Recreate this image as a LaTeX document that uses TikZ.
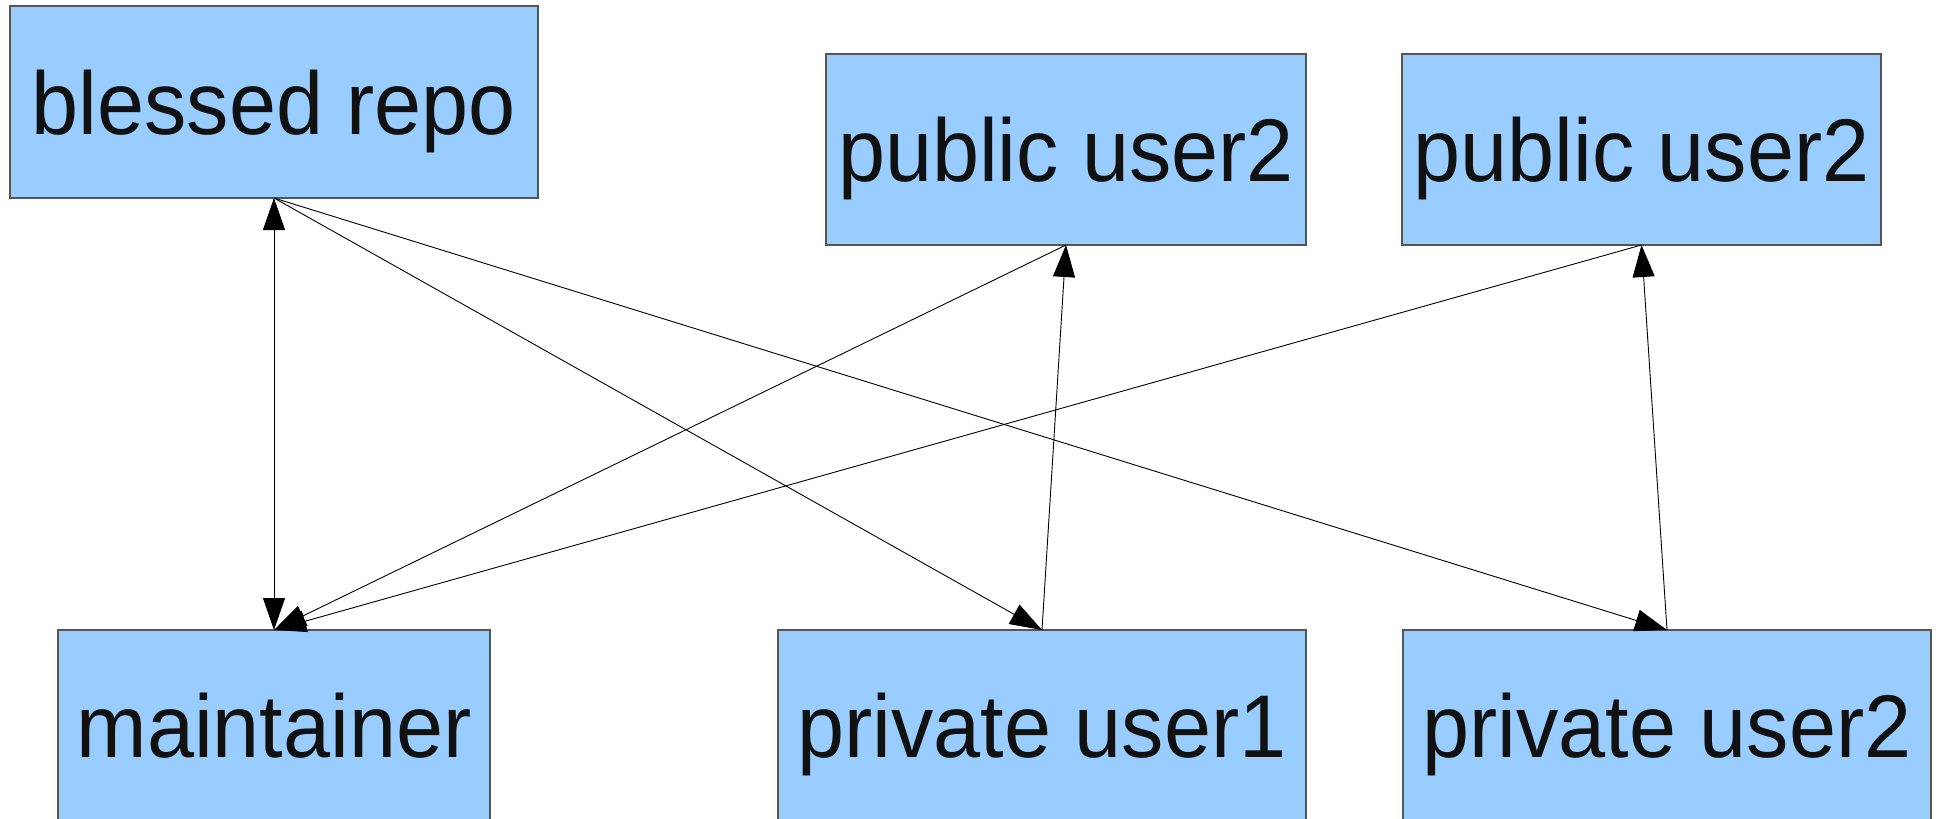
\documentclass[tikz,border=0pt]{standalone}
\usepackage{fontspec}
\setmainfont{Liberation Sans}[FakeStretch=0.95]
\usetikzlibrary{arrows.meta}
\definecolor{boxfill}{HTML}{99CCFF}
\definecolor{boxline}{HTML}{555555}
\definecolor{txt}{HTML}{111111}
\begin{document}
\begin{tikzpicture}[x=1pt,y=-1pt,
  repo/.style={draw=boxline, line width=1.2pt, fill=boxfill, rectangle,
    inner sep=0pt, outer sep=0pt, text=txt,
    font=\fontsize{89}{94}\selectfont, text height=64pt, text depth=0pt,
    anchor=north west},
  conn/.style={line width=0.9pt, draw=black},
  hd/.tip={Triangle[length=32pt,width=22pt]}]
\useasboundingbox (0,0) rectangle (1939,819);
\fill[white] (0,0) rectangle (1939,819);
\node[repo, minimum width=528pt, minimum height=192pt] (blessed) at (10,6) {blessed repo};
\node[repo, minimum width=480pt, minimum height=191pt] (pub1) at (826,54) {public user2};
\node[repo, minimum width=479pt, minimum height=191pt] (pub2) at (1402,54) {public user2};
\node[repo, minimum width=432pt, minimum height=191pt] (maint) at (58,630) {maintainer};
\node[repo, minimum width=528pt, minimum height=191pt] (priv1) at (778,630) {private user1};
\node[repo, minimum width=528pt, minimum height=191pt] (priv2) at (1403,630) {private user2};
\draw[conn, hd-hd] (blessed.south) -- (maint.north);
\draw[conn, -hd] (blessed.south) -- (priv1.north);
\draw[conn, -hd] (blessed.south) -- (priv2.north);
\draw[conn, -hd] (priv1.north) -- (pub1.south);
\draw[conn, -hd] (priv2.north) -- (pub2.south);
\draw[conn, -hd] (pub1.south) -- (maint.north);
\draw[conn, -hd] (pub2.south) -- (maint.north);
\end{tikzpicture}
\end{document}
